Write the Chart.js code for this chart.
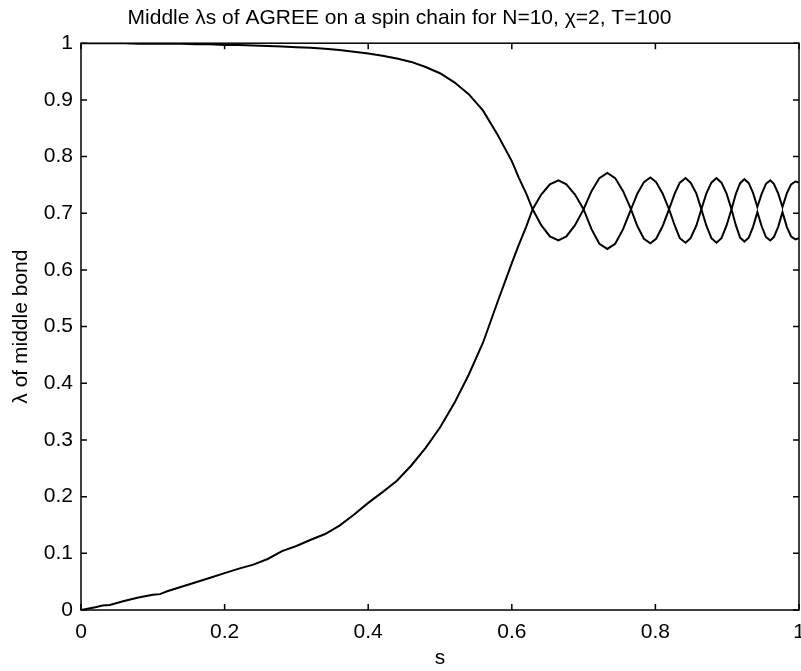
<!DOCTYPE html>
<html>
<head>
<meta charset="utf-8">
<script src="https://cdn.jsdelivr.net/npm/chart.js@4"></script>
<style>
  html, body { margin: 0; padding: 0; background: #fff; }
  #wrap { width: 801px; height: 671px; }
</style>
</head>
<body>
<div id="wrap"><canvas id="lambdaChart" width="801" height="671"></canvas></div>
<script>
const sValues = [
  0, 0.02, 0.03, 0.04, 0.06, 0.08, 0.10, 0.11, 0.12, 0.14, 0.16, 0.18, 0.20,
  0.22, 0.24, 0.26, 0.28, 0.30, 0.32, 0.34, 0.36, 0.38, 0.40, 0.42, 0.44,
  0.46, 0.48, 0.50, 0.52, 0.54, 0.56, 0.58, 0.60, 0.61, 0.62, 0.629,
  0.641, 0.653, 0.665, 0.676, 0.688, 0.700,
  0.711, 0.722, 0.733, 0.744, 0.755, 0.766,
  0.775, 0.784, 0.793, 0.801, 0.810, 0.819,
  0.827, 0.834, 0.842, 0.849, 0.857, 0.864,
  0.871, 0.878, 0.885, 0.892, 0.899, 0.906,
  0.912, 0.918, 0.924, 0.930, 0.936, 0.942,
  0.948, 0.954, 0.960, 0.965, 0.971, 0.977,
  0.983, 0.989, 0.995, 1.0
];

// larger lambda of the middle bond
const lambdaLarge = [
  1.000, 1.000, 1.000, 1.000, 1.000, 0.999, 0.999, 0.999, 0.999, 0.999, 0.998, 0.998, 0.997,
  0.997, 0.996, 0.995, 0.994, 0.993, 0.992, 0.990, 0.988, 0.985, 0.982, 0.978, 0.973,
  0.967, 0.958, 0.947, 0.931, 0.910, 0.881, 0.839, 0.792, 0.762, 0.735, 0.707,
  0.733, 0.751, 0.758, 0.751, 0.733, 0.707,
  0.739, 0.762, 0.771, 0.762, 0.739, 0.707,
  0.735, 0.755, 0.763, 0.755, 0.735, 0.707,
  0.735, 0.754, 0.762, 0.754, 0.735, 0.707,
  0.735, 0.754, 0.762, 0.754, 0.735, 0.707,
  0.734, 0.753, 0.760, 0.753, 0.736, 0.711,
  0.734, 0.752, 0.758, 0.752, 0.735, 0.711,
  0.735, 0.751, 0.756, 0.754
];

// smaller lambda of the middle bond
const lambdaSmall = [
  0.000, 0.005, 0.008, 0.009, 0.016, 0.022, 0.027, 0.028, 0.033, 0.041, 0.049, 0.057, 0.065,
  0.073, 0.080, 0.090, 0.104, 0.113, 0.124, 0.134, 0.149, 0.168, 0.189, 0.208, 0.228,
  0.255, 0.286, 0.322, 0.365, 0.415, 0.472, 0.543, 0.612, 0.645, 0.676, 0.707,
  0.679, 0.659, 0.652, 0.659, 0.679, 0.707,
  0.672, 0.646, 0.637, 0.646, 0.672, 0.707,
  0.677, 0.655, 0.647, 0.655, 0.677, 0.707,
  0.678, 0.656, 0.648, 0.656, 0.678, 0.707,
  0.678, 0.656, 0.648, 0.656, 0.678, 0.707,
  0.679, 0.657, 0.650, 0.657, 0.676, 0.702,
  0.677, 0.658, 0.652, 0.658, 0.676, 0.702,
  0.676, 0.659, 0.654, 0.656
];

const xTicks = [0, 0.2, 0.4, 0.6, 0.8, 1];
const xTickLabels = ["0", "0.2", "0.4", "0.6", "0.8", "1"];
const yTicks = [0, 0.1, 0.2, 0.3, 0.4, 0.5, 0.6, 0.7, 0.8, 0.9, 1];
const yTickLabels = ["0", "0.1", "0.2", "0.3", "0.4", "0.5", "0.6", "0.7", "0.8", "0.9", "1"];

const fontFamily = "'Liberation Sans', Arial, Helvetica, sans-serif";

// matlab style box with inward ticks on all four sides
const boxTicks = {
  id: "boxTicks",
  afterDraw(chart) {
    const { ctx, chartArea: a, scales } = chart;
    const len = 6;
    ctx.save();
    ctx.strokeStyle = "#000";
    ctx.lineWidth = 1.5;
    ctx.strokeRect(a.left, a.top, a.right - a.left, a.bottom - a.top);
    ctx.beginPath();
    xTicks.forEach(v => {
      const px = scales.x.getPixelForValue(v);
      ctx.moveTo(px, a.bottom); ctx.lineTo(px, a.bottom - len);
      ctx.moveTo(px, a.top); ctx.lineTo(px, a.top + len);
    });
    yTicks.forEach(v => {
      const py = scales.y.getPixelForValue(v);
      ctx.moveTo(a.left, py); ctx.lineTo(a.left + len, py);
      ctx.moveTo(a.right, py); ctx.lineTo(a.right - len, py);
    });
    ctx.stroke();
    ctx.restore();
  }
};

const lineStyle = {
  borderColor: "#000",
  borderWidth: 2,
  pointRadius: 0,
  tension: 0,
  fill: false
};

new Chart(document.getElementById("lambdaChart"), {
  type: "line",
  data: {
    datasets: [
      {
        label: "larger lambda",
        data: sValues.map((s, i) => ({ x: s, y: lambdaLarge[i] })),
        ...lineStyle
      },
      {
        label: "smaller lambda",
        data: sValues.map((s, i) => ({ x: s, y: lambdaSmall[i] })),
        ...lineStyle
      }
    ]
  },
  options: {
    responsive: false,
    animation: false,
    events: [],
    layout: { padding: { left: 0, right: 2, top: 0, bottom: 0 } },
    plugins: {
      legend: { display: false },
      tooltip: { enabled: false },
      title: {
        display: true,
        text: "Middle \u03bbs of AGREE on a spin chain for N=10, \u03c7=2, T=100",
        color: "#000",
        font: { family: fontFamily, size: 21, weight: "normal" },
        padding: { top: 6, bottom: 12 }
      }
    },
    scales: {
      x: {
        type: "linear",
        min: 0,
        max: 1,
        afterBuildTicks: scale => { scale.ticks = xTicks.map(v => ({ value: v })); },
        afterFit: scale => { scale.height = 61; scale.paddingLeft = 0; scale.paddingRight = 0; },
        grid: { display: false, drawTicks: false },
        border: { display: false },
        ticks: {
          color: "#000",
          font: { family: fontFamily, size: 21 },
          padding: 10,
          maxRotation: 0,
          callback: (v, i) => xTickLabels[i]
        },
        title: {
          display: true,
          text: "s",
          color: "#000",
          font: { family: fontFamily, size: 21 },
          padding: { top: 0, bottom: 0 }
        }
      },
      y: {
        type: "linear",
        min: 0,
        max: 1,
        afterBuildTicks: scale => { scale.ticks = yTicks.map(v => ({ value: v })); },
        afterFit: scale => { scale.width = 81; scale.paddingTop = 0; scale.paddingBottom = 0; },
        grid: { display: false, drawTicks: false },
        border: { display: false },
        ticks: {
          color: "#000",
          font: { family: fontFamily, size: 21 },
          padding: 8,
          callback: (v, i) => yTickLabels[i]
        },
        title: {
          display: true,
          text: "\u03bb of middle bond",
          color: "#000",
          font: { family: fontFamily, size: 21 },
          padding: { top: 9, bottom: 0 }
        }
      }
    }
  },
  plugins: [boxTicks]
});
</script>
</body>
</html>
